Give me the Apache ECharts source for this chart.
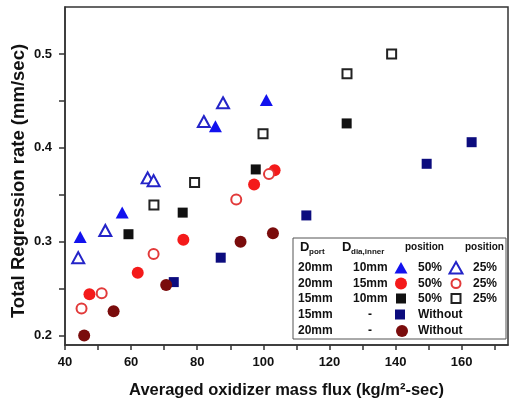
<!DOCTYPE html>
<html>
<head>
<meta charset="utf-8">
<script src="https://cdn.jsdelivr.net/npm/echarts@6/dist/echarts.min.js"></script>
<style>
  html, body { margin: 0; padding: 0; background: #fff; }
  #chart { width: 510px; height: 407px; }
</style>
</head>
<body>
<div id="chart"></div>
<script>
// data: [mass flux, regression rate]
var port20inner10at50 = [[44.6, 0.305], [57.3, 0.331], [85.5, 0.423], [100.9, 0.451]]
var port20inner10at25 = [[44.0, 0.283], [52.2, 0.312], [65.0, 0.368], [66.8, 0.365], [82.0, 0.428], [87.8, 0.448]]
var port20inner15at50 = [[47.4, 0.244], [62.0, 0.267], [75.8, 0.302], [97.2, 0.361], [103.4, 0.376]]
var port20inner15at25 = [[45.0, 0.229], [51.1, 0.245], [66.8, 0.287], [91.8, 0.345], [101.7, 0.372]]
var port15inner10at50 = [[59.2, 0.308], [75.6, 0.331], [97.7, 0.377], [125.2, 0.426]]
var port15inner10at25 = [[66.9, 0.339], [79.2, 0.363], [99.9, 0.415], [125.3, 0.479], [138.8, 0.500]]
var port15without = [[72.9, 0.257], [87.1, 0.283], [113.0, 0.328], [149.4, 0.383], [163.0, 0.406]]
var port20without = [[45.8, 0.200], [54.7, 0.226], [70.6, 0.254], [93.1, 0.300], [102.9, 0.309]]

var xLabels = [40, 60, 80, 100, 120, 140, 160]
var xTicks = [40, 50, 60, 70, 80, 90, 100, 110, 120, 130, 140, 150, 160, 170]
var yLabels = [0.2, 0.3, 0.4, 0.5]
var yTicks = [0.2, 0.25, 0.3, 0.35, 0.4, 0.45, 0.5]

// legend table
var legPort = ['20mm', '20mm', '15mm', '15mm', '20mm']
var legInner = ['10mm', '15mm', '10mm', '-', '-']
var legMid = ['50%', '50%', '50%', 'Without', 'Without']
var legRight = ['25%', '25%', '25%', '', '']

var FONT = '"Liberation Sans", Arial, sans-serif'
var blue = '#1212ee', blueLine = '#2424c8', red = '#f41a1a', redLine = '#e23a3a'
var black = '#111111', navy = '#0c0c7e', darkred = '#7a0c0c'

var styles = [
  { data: port20inner10at50, symbol: 'triangle', size: [13, 12], fill: blue, line: blue, w: 0 },
  { data: port20inner10at25, symbol: 'triangle', size: [12, 11], fill: '#fff', line: blueLine, w: 2 },
  { data: port20inner15at50, symbol: 'circle', size: 12, fill: red, line: red, w: 0 },
  { data: port20inner15at25, symbol: 'circle', size: 10, fill: '#fff', line: redLine, w: 2 },
  { data: port15inner10at50, symbol: 'rect', size: 10, fill: black, line: black, w: 0 },
  { data: port15inner10at25, symbol: 'rect', size: 9, fill: '#fff', line: '#222', w: 2 },
  { data: port15without, symbol: 'rect', size: 10, fill: navy, line: navy, w: 0 },
  { data: port20without, symbol: 'circle', size: 12, fill: darkred, line: darkred, w: 0 }
]

var series = styles.map(function (s) {
  return {
    type: 'scatter',
    data: s.data,
    symbol: s.symbol,
    symbolSize: s.size,
    itemStyle: { color: s.fill, borderColor: s.line, borderWidth: s.w, opacity: 1 }
  }
})

// y title + legend drawn as graphic elements
var rowY = [268, 283.5, 298.5, 314.5, 331]
var graphics = [
  { type: 'text', x: 19, y: 181, rotation: Math.PI / 2, style: { text: 'Total Regression rate (mm/sec)', font: 'bold 18.5px ' + FONT, fill: '#111', align: 'center', verticalAlign: 'middle' } },
  { type: 'rect', shape: { x: 293, y: 238, width: 213, height: 101 }, style: { fill: '#fff', stroke: '#555', lineWidth: 1 }, z: 10 },
  { type: 'text', x: 300, y: 247, style: { text: 'D', font: 'bold 13px ' + FONT, fill: '#111', verticalAlign: 'middle' }, z: 11 },
  { type: 'text', x: 309, y: 252, style: { text: 'port', font: 'bold 8px ' + FONT, fill: '#111', verticalAlign: 'middle' }, z: 11 },
  { type: 'text', x: 342, y: 247, style: { text: 'D', font: 'bold 13px ' + FONT, fill: '#111', verticalAlign: 'middle' }, z: 11 },
  { type: 'text', x: 351, y: 252, style: { text: 'dia,inner', font: 'bold 8px ' + FONT, fill: '#111', verticalAlign: 'middle' }, z: 11 },
  { type: 'text', x: 405, y: 247, style: { text: 'position', font: 'bold 10px ' + FONT, fill: '#111', verticalAlign: 'middle' }, z: 11 },
  { type: 'text', x: 465, y: 247, style: { text: 'position', font: 'bold 10px ' + FONT, fill: '#111', verticalAlign: 'middle' }, z: 11 }
]
for (var i = 0; i < rowY.length; i++) {
  var y = rowY[i]
  graphics.push({ type: 'text', x: 298, y: y, style: { text: legPort[i], font: 'bold 12px ' + FONT, fill: '#111', verticalAlign: 'middle' }, z: 11 })
  graphics.push({ type: 'text', x: legInner[i] === '-' ? 368 : 353, y: y, style: { text: legInner[i], font: 'bold 12px ' + FONT, fill: '#111', verticalAlign: 'middle' }, z: 11 })
  graphics.push({ type: 'text', x: 418, y: y, style: { text: legMid[i], font: 'bold 12px ' + FONT, fill: '#111', verticalAlign: 'middle' }, z: 11 })
  if (legRight[i]) {
    graphics.push({ type: 'text', x: 473, y: y, style: { text: legRight[i], font: 'bold 12px ' + FONT, fill: '#111', verticalAlign: 'middle' }, z: 11 })
  }
}
function legSymbol(kind, cx, cy, fill, stroke, lw) {
  if (kind === 'triangle') {
    return { type: 'polygon', shape: { points: [[cx, cy - 6], [cx + 6.5, cy + 5.5], [cx - 6.5, cy + 5.5]] }, style: { fill: fill, stroke: stroke, lineWidth: lw }, z: 11 }
  }
  if (kind === 'circle') {
    return { type: 'circle', shape: { cx: cx, cy: cy, r: lw ? 4.5 : 6 }, style: { fill: fill, stroke: stroke, lineWidth: lw }, z: 11 }
  }
  var h = lw ? 4.5 : 5
  return { type: 'rect', shape: { x: cx - h, y: cy - h, width: 2 * h, height: 2 * h }, style: { fill: fill, stroke: stroke, lineWidth: lw }, z: 11 }
}
graphics.push(legSymbol('triangle', 401, rowY[0], blue, blue, 0))
graphics.push(legSymbol('triangle', 456, rowY[0], '#fff', blueLine, 2))
graphics.push(legSymbol('circle', 401, rowY[1], red, red, 0))
graphics.push(legSymbol('circle', 456, rowY[1], '#fff', redLine, 2))
graphics.push(legSymbol('rect', 401, rowY[2], black, black, 0))
graphics.push(legSymbol('rect', 456, rowY[2], '#fff', '#222', 2))
graphics.push(legSymbol('rect', 400, rowY[3], navy, navy, 0))
graphics.push(legSymbol('circle', 402, rowY[4], darkred, darkred, 0))

var chart = echarts.init(document.getElementById('chart'))
chart.setOption({
  animation: false,
  backgroundColor: '#fff',
  grid: {
    left: 65, right: 2, top: 7, bottom: 62,
    containLabel: false,
    outerBoundsMode: 'none',
    show: true, borderColor: '#333', borderWidth: 1.5, backgroundColor: 'transparent'
  },
  xAxis: {
    type: 'value',
    min: 40,
    max: 174,
    name: 'Averaged oxidizer mass flux (kg/m²-sec)',
    nameLocation: 'middle',
    nameGap: 37,
    nameTextStyle: { fontFamily: FONT, fontWeight: 'bold', fontSize: 16.5, color: '#111' },
    splitLine: { show: false },
    axisLine: { lineStyle: { color: '#333', width: 1.5 } },
    axisTick: { inside: false, length: 5, customValues: xTicks, lineStyle: { color: '#333', width: 1.5 } },
    axisLabel: { customValues: xLabels, margin: 11, fontFamily: FONT, fontWeight: 'bold', fontSize: 13, color: '#111' }
  },
  yAxis: {
    type: 'value',
    min: 0.19,
    max: 0.55,
    splitLine: { show: false },
    axisLine: { lineStyle: { color: '#333', width: 1.5 } },
    axisTick: { inside: false, length: 6, customValues: yTicks, lineStyle: { color: '#333', width: 1.5 } },
    axisLabel: { customValues: yLabels, margin: 13, fontFamily: FONT, fontWeight: 'bold', fontSize: 13, color: '#111' }
  },
  series: series,
  graphic: graphics
})
</script>
</body>
</html>
